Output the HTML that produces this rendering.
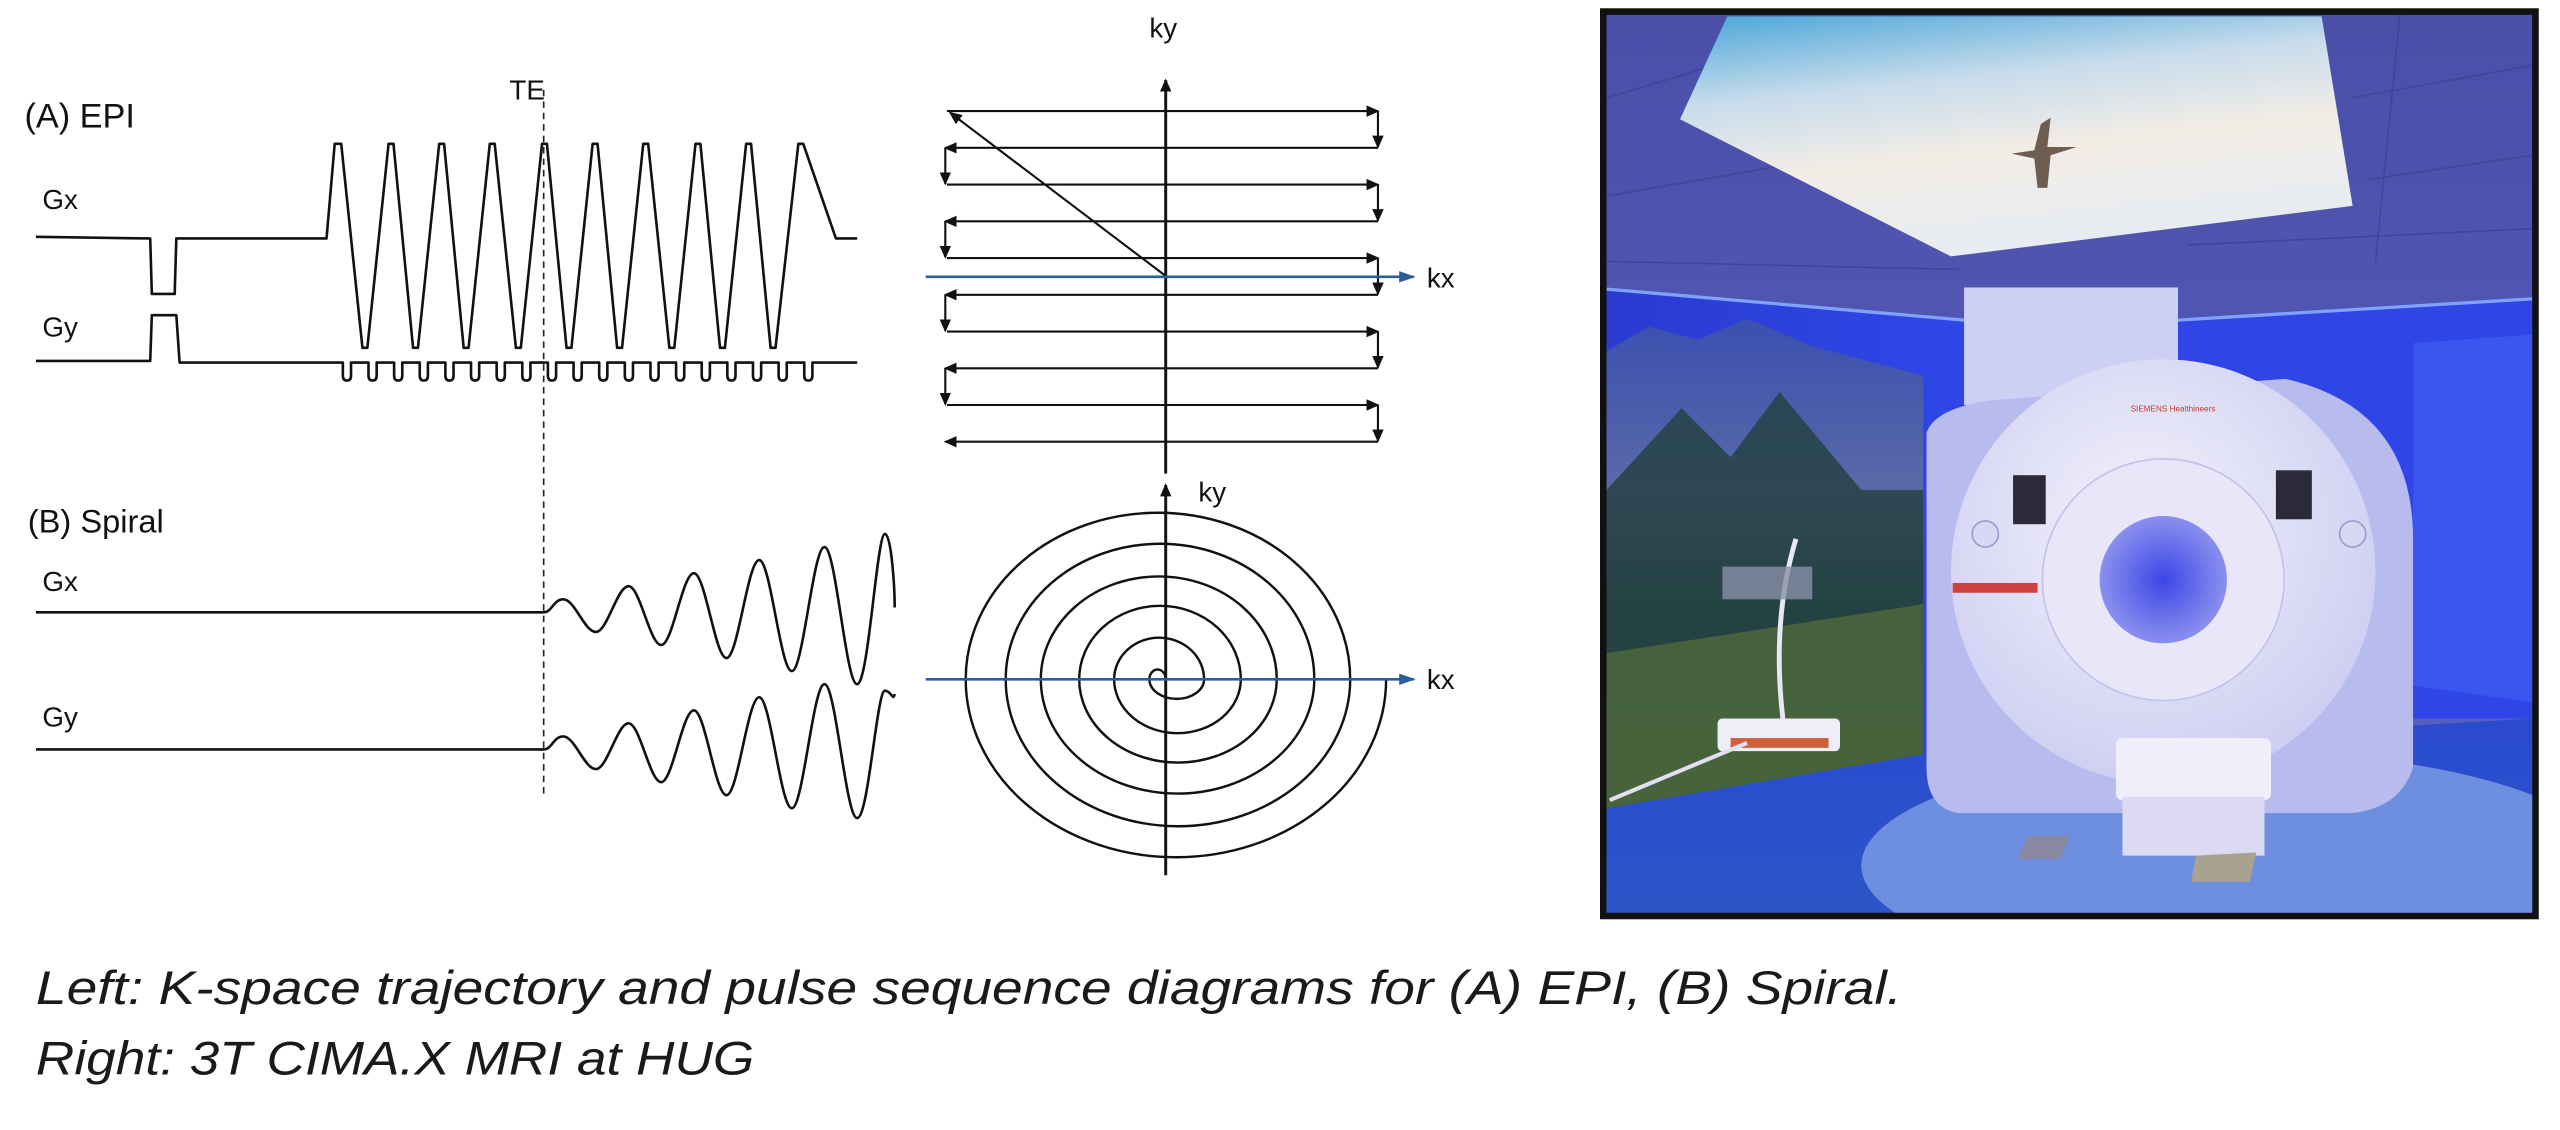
<!DOCTYPE html>
<html><head><meta charset="utf-8"><style>
html,body{margin:0;padding:0;background:#fff;}
svg{display:block;}
</style></head><body>
<svg width="2560" height="1130" viewBox="0 0 1568 692" xmlns="http://www.w3.org/2000/svg">
<defs>
<marker id="ah" markerWidth="8" markerHeight="8" refX="7" refY="4" orient="auto" markerUnits="userSpaceOnUse"><path d="M0,0.5 L8,4 L0,7.5 Z" fill="#111"/></marker>
<marker id="ab" markerWidth="10" markerHeight="8" refX="9" refY="4" orient="auto" markerUnits="userSpaceOnUse"><path d="M0,0.5 L10,4 L0,7.5 Z" fill="#2b5d9a"/></marker>
<linearGradient id="ceil" x1="0" y1="0" x2="0" y2="1"><stop offset="0" stop-color="#4a4fa8"/><stop offset="1" stop-color="#5a62c4"/></linearGradient>
<linearGradient id="sky" x1="0" y1="0" x2="0.3" y2="1"><stop offset="0" stop-color="#4aa6d8"/><stop offset="0.35" stop-color="#c8dcec"/><stop offset="0.65" stop-color="#f3ede6"/><stop offset="1" stop-color="#e6ecf2"/></linearGradient>
<linearGradient id="wall" x1="0" y1="0" x2="1" y2="0"><stop offset="0" stop-color="#2a3bd0"/><stop offset="1" stop-color="#2f46e8"/></linearGradient>
<linearGradient id="mural" x1="0" y1="0" x2="0" y2="1"><stop offset="0" stop-color="#3a4fb0"/><stop offset="0.35" stop-color="#5a6aa8"/><stop offset="0.6" stop-color="#2c4a55"/><stop offset="1" stop-color="#4a6a3a"/></linearGradient>
<linearGradient id="floor" x1="0" y1="0" x2="0" y2="1"><stop offset="0" stop-color="#2a4ad0"/><stop offset="1" stop-color="#2c56c8"/></linearGradient>
<radialGradient id="gan" cx="0.45" cy="0.4" r="0.7"><stop offset="0" stop-color="#f4f3fc"/><stop offset="1" stop-color="#c8c8f0"/></radialGradient>
<radialGradient id="bore" cx="0.5" cy="0.5" r="0.5"><stop offset="0" stop-color="#3c46e6"/><stop offset="1" stop-color="#8a90ee"/></radialGradient>
</defs>

<g font-family="Liberation Sans, sans-serif" fill="#111">
<text x="15" y="78" font-size="21">(A) EPI</text>
<text x="312" y="61" font-size="17">TE</text>
<text x="26" y="128" font-size="17">Gx</text>
<text x="26" y="206" font-size="17">Gy</text>
<text x="17" y="326" font-size="20">(B) Spiral</text>
<text x="26" y="362" font-size="17">Gx</text>
<text x="26" y="445" font-size="17">Gy</text>
<text x="704" y="23" font-size="17">ky</text>
<text x="874" y="176" font-size="17">kx</text>
<text x="734" y="307" font-size="17">ky</text>
<text x="874" y="422" font-size="17">kx</text>
</g>

<line x1="333" y1="55" x2="333" y2="488" stroke="#222" stroke-width="1" stroke-dasharray="4,3"/>

<g fill="none" stroke="#111" stroke-width="1.6" stroke-linejoin="round">
<path d="M22,145 L92,146 L93,180 L107,180 L108,146 L200,146 L205,88 L209,88 L222,213 L225,213 L238,88 L241,88 L253,213 L256,213 L269,88 L272,88 L284,213 L287,213 L300,88 L303,88 L316,213 L319,213 L332,88 L335,88 L347,213 L350,213 L363,88 L366,88 L378,213 L381,213 L394,88 L397,88 L410,213 L413,213 L426,88 L429,88 L441,213 L444,213 L457,88 L460,88 L472,213 L475,213 L489,88 L492,88 L512,146 L525,146"/>
<path d="M22,221 L92,221 L93,193 L108,193 L110,222 L210,222 v8 q0,3 2.5,3 q2.5,0 2.5,-3 v-8 h10.7 v8 q0,3 2.5,3 q2.5,0 2.5,-3 v-8 h10.7 v8 q0,3 2.5,3 q2.5,0 2.5,-3 v-8 h10.7 v8 q0,3 2.5,3 q2.5,0 2.5,-3 v-8 h10.7 v8 q0,3 2.5,3 q2.5,0 2.5,-3 v-8 h10.7 v8 q0,3 2.5,3 q2.5,0 2.5,-3 v-8 h10.7 v8 q0,3 2.5,3 q2.5,0 2.5,-3 v-8 h10.7 v8 q0,3 2.5,3 q2.5,0 2.5,-3 v-8 h10.7 v8 q0,3 2.5,3 q2.5,0 2.5,-3 v-8 h10.7 v8 q0,3 2.5,3 q2.5,0 2.5,-3 v-8 h10.7 v8 q0,3 2.5,3 q2.5,0 2.5,-3 v-8 h10.7 v8 q0,3 2.5,3 q2.5,0 2.5,-3 v-8 h10.7 v8 q0,3 2.5,3 q2.5,0 2.5,-3 v-8 h10.7 v8 q0,3 2.5,3 q2.5,0 2.5,-3 v-8 h10.7 v8 q0,3 2.5,3 q2.5,0 2.5,-3 v-8 h10.7 v8 q0,3 2.5,3 q2.5,0 2.5,-3 v-8 h10.7 v8 q0,3 2.5,3 q2.5,0 2.5,-3 v-8 h10.7 v8 q0,3 2.5,3 q2.5,0 2.5,-3 v-8 h10.7 v8 q0,3 2.5,3 q2.5,0 2.5,-3 v-8 L525,222"/>
<path d="M22,375 L333,375 C338,375 339,367 345,367 C352,367 358,387 365,387 C372,387 378,359 385,359 C392,359 398,395 405,395 C412,395 418,351 425,351 C432,351 438,403 445,403 C452,403 458,343 465,343 C472,343 478,411 485,411 C492,411 498,335 505,335 C512,335 518,419 525,419 C532,419 537,327 542,327 C546,327 548,360 548,372"/>
<path d="M22,459 L333,459 C338,459 339,451 345,451 C352,451 358,471 365,471 C372,471 378,443 385,443 C392,443 398,479 405,479 C412,479 418,435 425,435 C432,435 438,487 445,487 C452,487 458,427 465,427 C472,427 478,495 485,495 C492,495 498,419 505,419 C512,419 518,501 525,501 C532,501 537,423 542,423 C546,423 547,430 548,425"/>
</g>

<g stroke="#111" stroke-width="1.3" fill="none">
<line x1="714" y1="290" x2="714" y2="49" stroke-width="1.8" marker-end="url(#ah)"/>
<line x1="714" y1="169" x2="582" y2="69" marker-end="url(#ah)"/>
<line x1="580" y1="68" x2="844" y2="68" marker-end="url(#ah)"/>
<line x1="844" y1="90.5" x2="579" y2="90.5" marker-end="url(#ah)"/>
<line x1="580" y1="113" x2="844" y2="113" marker-end="url(#ah)"/>
<line x1="844" y1="135.5" x2="579" y2="135.5" marker-end="url(#ah)"/>
<line x1="580" y1="158" x2="844" y2="158" marker-end="url(#ah)"/>
<line x1="844" y1="180.5" x2="579" y2="180.5" marker-end="url(#ah)"/>
<line x1="580" y1="203" x2="844" y2="203" marker-end="url(#ah)"/>
<line x1="844" y1="225.5" x2="579" y2="225.5" marker-end="url(#ah)"/>
<line x1="580" y1="248" x2="844" y2="248" marker-end="url(#ah)"/>
<line x1="844" y1="270.5" x2="579" y2="270.5" marker-end="url(#ah)"/>
<line x1="844" y1="68" x2="844" y2="90" marker-end="url(#ah)"/>
<line x1="844" y1="113" x2="844" y2="135" marker-end="url(#ah)"/>
<line x1="844" y1="158" x2="844" y2="180" marker-end="url(#ah)"/>
<line x1="844" y1="203" x2="844" y2="225" marker-end="url(#ah)"/>
<line x1="844" y1="248" x2="844" y2="270" marker-end="url(#ah)"/>
<line x1="579" y1="90.5" x2="579" y2="112.5" marker-end="url(#ah)"/>
<line x1="579" y1="135.5" x2="579" y2="157.5" marker-end="url(#ah)"/>
<line x1="579" y1="180.5" x2="579" y2="202.5" marker-end="url(#ah)"/>
<line x1="579" y1="225.5" x2="579" y2="247.5" marker-end="url(#ah)"/>
</g>
<line x1="567" y1="169.5" x2="866" y2="169.5" stroke="#2b5d9a" stroke-width="1.6" marker-end="url(#ab)"/>

<g stroke="#111" stroke-width="1.5" fill="none">
<line x1="714" y1="536" x2="714" y2="297" stroke-width="1.8" marker-end="url(#ah)"/>
<path d="M714,416 A5,6 0 0 0 704,416 A16.75,12 0 0 0 737.5,416 A27.55,25.5 0 0 0 682.4,416 A38.8,33 0 0 0 760,416 A49.5,45 0 0 0 661,416 A60.5,51 0 0 0 782,416 A72.25,63 0 0 0 637.5,416 A83.75,70 0 0 0 805,416 A94.5,83 0 0 0 616,416 A105.5,90 0 0 0 827,416 A117.75,102 0 0 0 591.5,416 A128.75,109 0 0 0 849,416"/>
</g>
<line x1="567" y1="416" x2="866" y2="416" stroke="#2b5d9a" stroke-width="1.6" marker-end="url(#ab)"/>

<!-- Photo -->
<rect x="980" y="5" width="575" height="558" fill="#111"/>
<svg x="984" y="9" width="567" height="550" viewBox="984 9 567 550">
<rect x="984" y="9" width="567" height="550" fill="url(#ceil)"/>
<g stroke="#3e4398" stroke-width="1" opacity="0.8">
<line x1="984" y1="60" x2="1050" y2="40"/><line x1="984" y1="120" x2="1100" y2="100"/><line x1="1440" y1="60" x2="1551" y2="40"/><line x1="1450" y1="110" x2="1551" y2="95"/><line x1="984" y1="160" x2="1200" y2="165"/><line x1="1340" y1="150" x2="1551" y2="140"/><line x1="1470" y1="9" x2="1455" y2="160"/>
</g>
<polygon points="1058,10 1422,10 1441,126 1195,157 1029,73" fill="url(#sky)"/>
<path d="M1232,94 l14,-2 l4,-16 l6,-4 l-2,18 l18,0 l-16,5 l-2,20 l-6,0 l-2,-18 z" fill="#6e5e52"/>
<polygon points="984,176 1203,196 1203,470 984,480" fill="url(#wall)"/>
<polygon points="1334,196 1551,182 1551,440 1334,440" fill="#2f45e6"/>
<polygon points="1478,210 1551,205 1551,430 1478,420" fill="#3a56f0"/>
<line x1="984" y1="177" x2="1203" y2="196" stroke="#7fa2ff" stroke-width="2"/>
<line x1="1334" y1="196" x2="1551" y2="183" stroke="#7fa2ff" stroke-width="2"/>
<polygon points="984,215 1010,200 1040,208 1070,195 1110,212 1178,230 1178,470 984,495" fill="url(#mural)"/>
<polygon points="984,300 1030,250 1060,280 1090,240 1140,300 1178,300 1178,470 984,495" fill="#23403e" opacity="0.8"/>
<polygon points="984,400 1178,370 1178,470 984,495" fill="#4d6a3c" opacity="0.8"/>
<polygon points="984,495 1178,462 1551,440 1551,559 984,559" fill="url(#floor)"/>
<ellipse cx="1370" cy="530" rx="230" ry="70" fill="#6e8ee0"/>
<rect x="1203" y="176" width="131" height="72" fill="#cdd0f3"/>
<path d="M1180,265 Q1185,250 1220,245 L1400,232 Q1478,250 1478,330 L1478,470 Q1470,495 1440,498 L1200,498 Q1180,495 1180,470 Z" fill="#b8bbee"/>
<circle cx="1325" cy="350" r="130" fill="url(#gan)"/>
<circle cx="1325" cy="355" r="74" fill="#e8e6f8" stroke="#c2c1ec" stroke-width="1"/>
<circle cx="1325" cy="355" r="39" fill="url(#bore)"/>
<rect x="1233" y="291" width="20" height="30" fill="#2a2a3a"/>
<rect x="1394" y="288" width="22" height="30" fill="#2a2a3a"/>
<circle cx="1216" cy="327" r="8" fill="#d8d8f2" stroke="#9a9ad0"/>
<circle cx="1441" cy="327" r="8" fill="#d8d8f2" stroke="#9a9ad0"/>
<rect x="1196" y="357" width="52" height="6" fill="#d04040"/>
<text x="1305" y="252" font-size="5" fill="#c03a2a" font-family="Liberation Sans, sans-serif">SIEMENS Healthineers</text>
<rect x="1296" y="452" width="95" height="38" rx="4" fill="#f0eefa"/>
<rect x="1300" y="488" width="87" height="36" fill="#dcdaf2"/>
<polygon points="1242,512 1268,512 1262,526 1236,526" fill="#8a88a0"/>
<polygon points="1345,524 1382,522 1378,540 1342,540" fill="#a8a290"/>
<path d="M1100,330 Q1085,380 1092,440 L1090,450" stroke="#e8e8f4" stroke-width="3" fill="none"/>
<rect x="1055" y="347" width="55" height="20" fill="#8a90a8" opacity="0.8"/>
<rect x="1052" y="440" width="75" height="20" rx="3" fill="#eeeef6"/>
<rect x="1060" y="452" width="60" height="6" fill="#d0603a"/>
<path d="M986,490 L1070,455" stroke="#e0e0f0" stroke-width="2.5"/>
</svg>

<g font-family="Liberation Sans, sans-serif" font-style="italic" fill="#1a1a1a" font-size="29">
<text x="22" y="615" textLength="1143" lengthAdjust="spacingAndGlyphs">Left: K-space trajectory and pulse sequence diagrams for (A) EPI, (B) Spiral.</text>
<text x="22" y="658" textLength="440" lengthAdjust="spacingAndGlyphs">Right: 3T CIMA.X MRI at HUG</text>
</g>
</svg>
</body></html>
